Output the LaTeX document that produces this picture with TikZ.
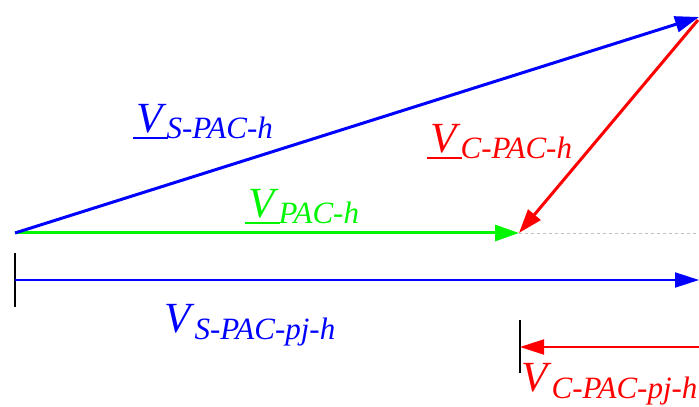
\documentclass[tikz,border=0pt]{standalone}
\usepackage{fontspec}
\setmainfont{Liberation Serif}
\usetikzlibrary{arrows.meta}
\definecolor{vblue}{RGB}{0,0,255}
\definecolor{vgreen}{RGB}{0,245,0}
\definecolor{vred}{RGB}{255,0,0}
\newcommand{\phlab}[1]{{\fontsize{43}{43}\selectfont\textit{V}}\raisebox{-7pt}{\fontsize{31}{31}\selectfont\textit{#1}}}
\newcommand{\uphlab}[1]{\rlap{\kern-3pt\rule[-6pt]{35pt}{2.2pt}}{\fontsize{43}{43}\selectfont\textit{V}}\raisebox{-6pt}{\fontsize{31}{31}\selectfont\textit{#1}}}
\tikzset{
  thickvec/.style={line width=3pt,-{Triangle[length=24pt,width=16pt]}},
  thinvec/.style={line width=2pt,-{Triangle[length=24pt,width=15pt]}},
  tick/.style={line width=1.3pt,black},
  lab/.style={inner sep=0pt,anchor=base west},
}
\begin{document}
\begin{tikzpicture}[x=1pt,y=1pt]
\useasboundingbox (0,0) rectangle (699,407);
% key points (y flipped: 407 - y)
\coordinate (O) at (15,174);
\coordinate (T) at (699,390);
\coordinate (Tr) at (698,387);
\coordinate (P) at (519,174);
\coordinate (E) at (699,174);
\coordinate (A1) at (15,154);
\coordinate (A2) at (15,100);
\coordinate (B0) at (15,127);
\coordinate (B1) at (699,127);
\coordinate (C1) at (520,87);
\coordinate (C2) at (520,34);
\coordinate (D0) at (699,60);
\coordinate (D1) at (520,60);
% dashed extension
\draw[gray!50,line width=0.8pt,dashed] (P) -- (E);
% vectors
\draw[thickvec,vgreen] (O) -- (P);
\draw[thickvec,vblue] (O) -- (T);
\draw[thickvec,vred] (Tr) -- (P);
% projections
\draw[tick] (A1) -- (A2);
\draw[thinvec,vblue] (B0) -- (B1);
\draw[tick] (C1) -- (C2);
\draw[thinvec,vred] (D0) -- (D1);
% labels
\node[lab,vblue] (lS) at (136,274) {\uphlab{S-PAC-h}};
\node[lab,vred] (lC) at (430,254) {\uphlab{C-PAC-h}};
\node[lab,vgreen] (lP) at (248,189) {\uphlab{PAC-h}};
\node[lab,vblue] (lSp) at (164,74) {\phlab{S-PAC-pj-h}};
\node[lab,vred] (lCp) at (521,15) {\phlab{C-PAC-pj-h}};
\end{tikzpicture}
\end{document}
